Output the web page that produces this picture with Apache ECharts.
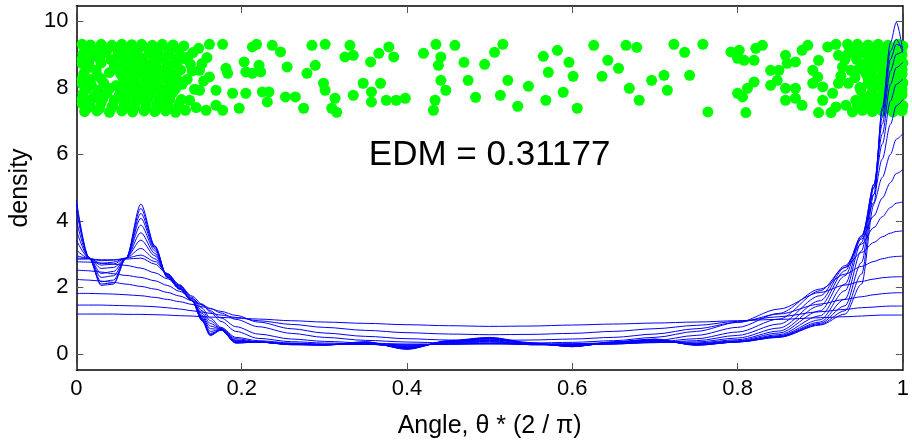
<!DOCTYPE html>
<html><head><meta charset="utf-8">
<script src="https://cdn.jsdelivr.net/npm/echarts@6/dist/echarts.min.js"></script>
<style>html,body{margin:0;padding:0;background:#fff}#c{width:912px;height:447px}</style>
</head><body><div id="c"></div>
<script>
// x positions (Angle * 2/pi) at which density curves were read
const xGrid = [0,0.015,0.03,0.045,0.06,0.078,0.095,0.11,0.125,0.14,0.152,0.162,0.175,0.193,
  0.22,0.26,0.3,0.35,0.4,0.45,0.5,0.55,0.6,0.65,0.7,
  0.75,0.8,0.85,0.9,0.93,0.95,0.965,0.975,0.985,0.992,1.0];

// density curves, widest bandwidth (flattest) to narrowest
const curve00 = [1.2,1.2,1.2,1.2,1.19,1.19,1.18,1.17,1.15,1.14,1.12,1.11,1.1,1.08, 1.05,1.0,0.96,0.92,0.88,0.85,0.83,0.84,0.87,0.9,0.93, 0.96,1.0,1.04,1.09,1.12,1.14,1.16,1.17,1.17,1.17,1.17];
const curve01 = [1.47,1.47,1.47,1.46,1.45,1.44,1.42,1.39,1.35,1.3,1.26,1.22,1.17,1.1, 1.0,0.89,0.8,0.71,0.64,0.6,0.58,0.59,0.62,0.68,0.76, 0.86,0.98,1.12,1.27,1.34,1.39,1.41,1.43,1.44,1.44,1.44];
const curve02 = [1.82,1.82,1.81,1.8,1.78,1.75,1.7,1.64,1.57,1.49,1.42,1.36,1.28,1.16, 0.96,0.76,0.63,0.53,0.46,0.42,0.41,0.42,0.45,0.5,0.6, 0.76,0.95,1.2,1.5,1.64,1.72,1.78,1.81,1.83,1.84,1.84];
const curve03 = [2.24,2.22,2.19,2.15,2.1,2.03,1.95,1.85,1.74,1.6,1.48,1.37,1.23,1.04, 0.82,0.62,0.5,0.41,0.36,0.33,0.32,0.33,0.35,0.4,0.5, 0.68,0.95,1.35,1.85,2.07,2.18,2.25,2.29,2.31,2.32,2.32];
const curve04 = [2.52,2.5,2.46,2.41,2.36,2.3,2.2,2.06,1.88,1.66,1.47,1.3,1.08,0.82, 0.6,0.45,0.38,0.33,0.3,0.3,0.3,0.3,0.31,0.34,0.4, 0.56,0.8,1.22,1.95,2.4,2.63,2.78,2.86,2.91,2.93,2.94];
const curve05 = [2.77,2.76,2.73,2.7,2.66,2.58,2.44,2.26,2.04,1.74,1.5,1.26,0.98,0.68, 0.47,0.37,0.33,0.3,0.28,0.29,0.31,0.29,0.3,0.32,0.36, 0.46,0.66,1.05,1.9,2.6,3.05,3.35,3.52,3.63,3.68,3.7];
const curve06 = [2.85,2.85,2.83,2.83,2.85,2.88,2.7,2.4,2.08,1.7,1.38,1.08,0.8,0.5, 0.4,0.33,0.3,0.29,0.26,0.3,0.33,0.28,0.29,0.31,0.34, 0.4,0.56,0.9,1.75,2.65,3.3,3.8,4.12,4.4,4.53,4.57];
const curve07 = [2.88,2.87,2.8,2.82,2.88,2.97,2.78,2.42,2.06,1.66,1.3,1.0,0.78,0.46, 0.37,0.31,0.29,0.29,0.24,0.32,0.36,0.28,0.28,0.3,0.35, 0.36,0.48,0.78,1.6,2.6,3.45,4.15,4.68,5.15,5.42,5.54];
const curve08 = [2.95,2.88,2.72,2.76,2.88,3.17,2.86,2.4,2.03,1.62,1.22,0.92,0.76,0.42, 0.36,0.3,0.28,0.3,0.22,0.34,0.38,0.28,0.27,0.3,0.37, 0.33,0.43,0.69,1.45,2.5,3.55,4.55,5.3,6.0,6.45,6.62];
const curve09 = [3.12,2.88,2.67,2.7,2.88,3.42,2.95,2.38,2.0,1.6,1.16,0.84,0.75,0.4, 0.36,0.3,0.28,0.31,0.2,0.35,0.4,0.29,0.26,0.31,0.38, 0.31,0.4,0.63,1.3,2.35,3.55,4.8,5.85,6.9,7.45,7.64];
const curve10 = [3.42,2.89,2.57,2.6,2.87,3.64,3.02,2.36,1.98,1.6,1.12,0.76,0.74,0.38, 0.36,0.3,0.28,0.32,0.19,0.36,0.43,0.3,0.25,0.32,0.4, 0.3,0.38,0.58,1.15,2.1,3.5,5.0,6.3,7.6,8.1,8.26];
const curve11 = [3.72,2.9,2.42,2.48,2.87,3.87,3.1,2.34,1.97,1.6,1.08,0.68,0.73,0.36, 0.36,0.29,0.28,0.33,0.18,0.37,0.45,0.31,0.24,0.33,0.41, 0.29,0.37,0.55,1.03,1.9,3.35,5.1,6.6,8.1,8.6,8.76];
const curve12 = [4.02,2.9,2.3,2.35,2.87,4.07,3.16,2.32,1.96,1.6,1.05,0.62,0.72,0.35, 0.36,0.29,0.27,0.34,0.17,0.38,0.47,0.31,0.23,0.34,0.42, 0.28,0.37,0.53,0.96,1.65,3.1,5.1,6.9,8.5,9.0,9.1];
const curve13 = [4.32,2.9,2.17,2.22,2.87,4.22,3.2,2.31,1.95,1.6,1.03,0.59,0.72,0.34, 0.36,0.29,0.27,0.35,0.16,0.38,0.48,0.32,0.23,0.35,0.43, 0.27,0.36,0.52,0.92,1.45,2.75,5.0,7.1,8.85,9.3,9.2];
const curve14 = [4.5,2.9,2.1,2.14,2.87,4.37,3.23,2.3,1.95,1.6,1.01,0.57,0.72,0.33, 0.36,0.28,0.27,0.36,0.15,0.39,0.49,0.33,0.22,0.36,0.44, 0.27,0.36,0.51,0.89,1.3,2.4,4.8,7.3,9.1,9.45,9.05];
const curve15 = [4.62,2.9,2.06,2.1,2.87,4.5,3.25,2.3,1.95,1.6,1.0,0.55,0.72,0.33, 0.36,0.28,0.27,0.37,0.14,0.4,0.5,0.34,0.22,0.37,0.45, 0.26,0.36,0.5,0.87,1.2,2.1,4.5,7.4,9.35,9.96,9.1];

// jittered observations [angle, jitter height]
const dotsLeft = [
 [0.007,9.3],[0.017,9.28],[0.03,9.3],[0.043,9.27],[0.055,9.3],[0.067,9.29],[0.079,9.3],[0.092,9.27],[0.104,9.3],[0.117,9.28],[0.13,9.25],
 [0.012,9.15],[0.025,9.13],[0.038,9.17],[0.05,9.12],[0.062,9.16],[0.074,9.14],[0.087,9.16],[0.099,9.12],[0.112,9.15],[0.124,9.13],
 [0.008,9.02],[0.022,8.98],[0.036,9.05],[0.05,8.97],[0.062,9.03],[0.074,8.99],[0.088,9.04],[0.1,8.96],[0.112,9.02],[0.126,8.95],
 [0.007,8.86],[0.016,8.84],[0.028,8.87],[0.042,8.83],[0.056,8.86],[0.068,8.84],[0.08,8.87],[0.094,8.83],[0.106,8.86],[0.119,8.84],[0.131,8.87],
 [0.007,8.72],[0.015,8.68],[0.03,8.74],[0.046,8.66],[0.058,8.73],[0.07,8.68],[0.083,8.72],[0.096,8.7],[0.11,8.66],[0.122,8.74],[0.138,8.7],
 [0.012,8.56],[0.024,8.53],[0.05,8.54],[0.062,8.56],[0.075,8.53],[0.088,8.57],[0.1,8.54],[0.113,8.56],[0.126,8.53],
 [0.009,8.42],[0.025,8.38],[0.04,8.45],[0.054,8.4],[0.066,8.36],[0.078,8.44],[0.091,8.39],[0.105,8.43],[0.118,8.37],
 [0.007,8.26],[0.017,8.24],[0.03,8.27],[0.057,8.26],[0.07,8.24],[0.083,8.27],[0.096,8.23],[0.109,8.26],[0.122,8.24],
 [0.007,8.12],[0.018,8.08],[0.033,8.14],[0.048,8.06],[0.061,8.12],[0.073,8.08],[0.086,8.14],[0.099,8.07],[0.114,8.12],[0.128,8.1],
 [0.012,7.96],[0.026,7.93],[0.04,7.97],[0.054,7.94],[0.067,7.96],[0.08,7.93],[0.093,7.97],[0.106,7.94],[0.12,7.96],
 [0.008,7.82],[0.022,7.76],[0.037,7.84],[0.052,7.78],[0.065,7.83],[0.077,7.77],[0.09,7.82],[0.103,7.78],[0.116,7.84],
 [0.007,7.66],[0.018,7.64],[0.032,7.67],[0.046,7.63],[0.06,7.66],[0.073,7.64],[0.087,7.67],[0.1,7.63],[0.113,7.66],[0.127,7.64],
 [0.007,7.52],[0.016,7.48],[0.03,7.55],[0.044,7.46],[0.058,7.52],[0.071,7.5],[0.084,7.54],[0.097,7.47],[0.11,7.52],[0.124,7.5],
 [0.014,7.4],[0.028,7.38],[0.043,7.41],[0.057,7.39],[0.07,7.4],[0.084,7.38],[0.098,7.41],[0.112,7.39],
 [0.01,7.28],[0.025,7.3],[0.04,7.26],[0.055,7.3],[0.068,7.27],[0.082,7.3],[0.095,7.28],[0.108,7.3],[0.12,7.26],
 [0.135,8.92],[0.14,8.5],[0.143,7.95],[0.137,7.62],[0.148,9.18],[0.154,8.2],[0.132,7.32],[0.145,7.4],[0.152,8.72],[0.158,8.9],[0.134,8.25],[0.141,9.05]
];
const dotsMiddle = [
 [0.161,9.3],[0.177,9.3],[0.203,8.77],[0.213,9.22],[0.218,9.3],[0.221,8.67],[0.205,8.47],[0.213,8.43],[0.223,8.47],
 [0.237,9.27],[0.247,9.07],[0.255,8.62],[0.279,8.43],[0.289,8.67],[0.285,9.27],[0.301,9.3],[0.299,8.13],[0.301,7.92],
 [0.313,7.68],[0.309,7.38],[0.315,7.26],[0.331,9.27],[0.325,8.92],[0.335,8.97],[0.356,8.77],[0.366,9.03],[0.378,9.22],
 [0.384,8.92],[0.347,8.13],[0.357,7.87],[0.368,8.13],[0.335,7.77],[0.357,7.57],[0.375,7.62],[0.387,7.62],[0.398,7.68],
 [0.42,9.03],[0.435,9.3],[0.441,8.92],[0.438,8.67],[0.441,8.22],[0.447,7.92],[0.434,7.62],[0.432,7.32],
 [0.157,7.32],[0.169,7.47],[0.177,7.32],[0.197,7.38],[0.189,7.83],[0.205,7.83],[0.225,7.87],[0.233,7.87],[0.231,7.57],
 [0.253,7.72],[0.265,7.72],[0.275,7.38],[0.149,8.52],[0.161,8.32],[0.181,8.58],[0.183,8.43],[0.169,7.92],[0.149,7.92],
 [0.458,9.27],[0.469,8.76],[0.474,8.22],[0.483,7.71],[0.494,8.7],[0.506,9.06],[0.516,9.3],[0.522,8.22],[0.513,7.77],
 [0.534,7.44],[0.547,8.04],[0.565,8.94],[0.582,9.12],[0.571,8.46],[0.596,8.76],[0.601,8.34],[0.589,7.86],[0.568,7.62],
 [0.606,7.38],[0.626,9.27],[0.643,8.82],[0.636,8.34],[0.656,8.58],[0.665,9.27],[0.678,9.21],[0.669,7.98],[0.681,7.62],
 [0.696,8.22],[0.723,9.3],[0.736,9.06],[0.711,8.37],[0.742,8.37],[0.715,7.92],[0.764,7.27],[0.758,9.3],
 [0.792,9.07],[0.802,9.12],[0.8,8.88],[0.808,8.82],[0.822,9.18],[0.83,9.27],[0.82,8.82],[0.84,8.52],[0.85,8.52],
 [0.858,8.97],[0.86,8.73],[0.87,8.77],[0.878,9.12],[0.885,9.27],[0.82,8.17],[0.812,7.98],[0.8,7.83],[0.806,7.72],
 [0.84,8.07],[0.848,8.22],[0.858,7.98],[0.87,7.98],[0.858,7.62],[0.87,7.68],[0.878,7.47],[0.81,7.25],
 [0.891,8.52],[0.897,8.32],[0.891,8.13],[0.898,8.82],[0.909,9.22],[0.919,9.3],[0.922,8.97],[0.933,9.3],[0.934,9.03],
 [0.927,8.62],[0.937,8.52],[0.949,9.18],[0.903,8.02],[0.915,7.83],[0.922,8.13],[0.934,8.13],[0.903,7.62],[0.898,7.25],
 [0.913,7.25],[0.919,7.42],[0.931,7.47],[0.943,7.62],[0.939,7.27],[0.951,7.32],[0.949,7.92],[0.955,8.43]
];
const dotsRight = [
 [0.958,9.28],[0.97,9.3],[0.982,9.27],[0.994,9.3],[1.0,9.25],
 [0.964,9.15],[0.976,9.13],[0.988,9.16],[0.998,9.12],
 [0.962,9.02],[0.975,8.98],[0.988,9.03],[0.999,8.98],
 [0.958,8.86],[0.97,8.84],[0.982,8.87],[0.994,8.83],
 [0.957,8.72],[0.969,8.68],[0.981,8.73],[0.993,8.68],[1.0,8.74],
 [0.964,8.56],[0.976,8.53],[0.988,8.57],[0.999,8.54],
 [0.963,8.42],[0.976,8.38],[0.988,8.44],[0.999,8.4],
 [0.958,8.26],[0.97,8.24],[0.982,8.27],[0.994,8.23],
 [0.958,8.12],[0.97,8.08],[0.982,8.13],[0.994,8.08],[1.0,8.14],
 [0.964,7.96],[0.976,7.93],[0.988,7.97],[0.999,7.94],
 [0.962,7.82],[0.975,7.78],[0.987,7.83],[0.999,7.79],
 [0.958,7.66],[0.97,7.64],[0.982,7.67],[0.994,7.63],
 [0.957,7.52],[0.969,7.48],[0.981,7.54],[0.993,7.5],[1.0,7.46],
 [0.964,7.4],[0.976,7.38],[0.988,7.41],[0.999,7.39],
 [0.963,7.28],[0.975,7.3],[0.988,7.27],[0.999,7.3],
 [0.945,9.3],[0.944,8.85],[0.951,8.7],[0.942,8.3],[0.948,8.0],[0.953,7.7],[0.945,7.45],[0.94,9.1],[0.952,9.05],[0.946,8.55],[0.93,8.85],[0.925,8.35]
];

const yTicks = [0, 2, 4, 6, 8, 10];
const edmText = 'EDM = 0.31177';
const edmPos = [0.5, 5.97];

const curves = [curve00,curve01,curve02,curve03,curve04,curve05,curve06,curve07,curve08,curve09,curve10,curve11,curve12,curve13,curve14,curve15];
const FONT = '"Liberation Sans", Arial, Helvetica, sans-serif';
const chart = echarts.init(document.getElementById('c'), null, {renderer: 'canvas'});

const series = [{
  type: 'scatter', data: dotsLeft.concat(dotsMiddle, dotsRight), symbolSize: 11,
  itemStyle: {color: '#00ff00', opacity: 1}, clip: false, z: 1, silent: true
}];
curves.forEach(c => series.push({
  type: 'line', data: xGrid.map((x, i) => [x, c[i]]), showSymbol: false,
  smooth: 0.3, smoothMonotone: 'x',
  lineStyle: {color: '#0000ff', width: 1}, z: 2, silent: true
}));

const axisLineStyle = {show: true, onZero: false, lineStyle: {color: '#000', width: 1.5}};
const tickStyle = {color: '#555', width: 1};

chart.setOption({
  animation: false,
  grid: {left: 76, right: 5, top: 6, bottom: 77, containLabel: false},
  xAxis: [{
    type: 'value', min: 0, max: 1, interval: 0.2, position: 'bottom',
    axisLine: axisLineStyle,
    axisTick: {inside: true, length: 7, lineStyle: tickStyle},
    axisLabel: {fontSize: 22, color: '#000', fontFamily: FONT, margin: 8},
    splitLine: {show: false},
    name: 'Angle, θ * (2 / π)', nameLocation: 'middle', nameGap: 44,
    nameTextStyle: {fontSize: 25, color: '#000', fontFamily: FONT}
  }, {
    type: 'value', min: 0, max: 1, interval: 0.2, position: 'top',
    axisLine: axisLineStyle,
    axisTick: {inside: true, length: 7, lineStyle: tickStyle},
    axisLabel: {show: false}, splitLine: {show: false}
  }],
  yAxis: [{
    type: 'value', min: -0.48, max: 10.45, position: 'left',
    axisLine: axisLineStyle,
    axisTick: {inside: true, length: 7, lineStyle: tickStyle, customValues: yTicks},
    axisLabel: {fontSize: 22, color: '#000', fontFamily: FONT, margin: 8, customValues: yTicks},
    splitLine: {show: false},
    name: 'density', nameLocation: 'middle', nameGap: 41, nameRotate: 90,
    nameTextStyle: {fontSize: 25, color: '#000', fontFamily: FONT}
  }, {
    type: 'value', min: -0.48, max: 10.45, position: 'right',
    axisLine: axisLineStyle,
    axisTick: {inside: true, length: 7, lineStyle: tickStyle, customValues: yTicks},
    axisLabel: {show: false}, splitLine: {show: false}
  }],
  series: series
});

const p = chart.convertToPixel({gridIndex: 0}, edmPos);
chart.setOption({
  graphic: [{
    type: 'text', x: p[0], y: p[1], z: 10,
    style: {text: edmText, fontSize: 35, fontFamily: FONT, fill: '#000', align: 'center', verticalAlign: 'middle'}
  }]
});
</script></body></html>
